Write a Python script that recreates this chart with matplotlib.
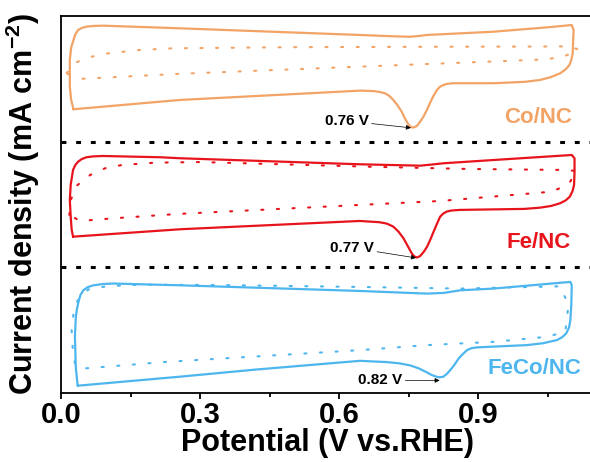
import matplotlib
matplotlib.use('Agg')
import matplotlib.pyplot as plt

# ========== Data (potential in V, current in panel-local units) ==========

co_v = [0.027, 0.022, 0.019, 0.019, 0.022, 0.027, 0.031, 0.037, 0.045, 0.055, 0.07,
        0.091, 0.257, 0.645, 0.72, 0.753, 0.775, 0.789, 0.933, 1.05, 1.102, 1.106,
        1.105, 1.104, 1.101, 1.097, 1.088, 1.077, 1.057, 1.034, 1.0, 0.933, 0.846,
        0.833, 0.825, 0.817, 0.811, 0.803, 0.796, 0.789, 0.782, 0.775, 0.768, 0.76,
        0.754, 0.749, 0.742, 0.735, 0.726, 0.717, 0.708, 0.699, 0.687, 0.674, 0.645,
        0.257, 0.027]
co_j = [0.258, 0.33, 0.44, 0.65, 0.75, 0.809, 0.855, 0.889, 0.905, 0.915, 0.921,
        0.923, 0.902, 0.849, 0.838, 0.835, 0.842, 0.849, 0.875, 0.91, 0.928, 0.889,
        0.80, 0.703, 0.65, 0.61, 0.573, 0.544, 0.514, 0.491, 0.476, 0.465, 0.465,
        0.46, 0.451, 0.435, 0.411, 0.36, 0.305, 0.25, 0.199, 0.16, 0.125, 0.112,
        0.118, 0.14, 0.185, 0.239, 0.29, 0.332, 0.365, 0.385, 0.396, 0.403, 0.406,
        0.332, 0.258]
co_dot_v = [0.012, 0.030, 0.066, 0.102, 0.171, 0.242, 0.5, 1.09, 1.117, 1.088, 1.048,
            0.861, 0.645, 0.25, 0.106, 0.037, 0.012]
co_dot_j = [0.544, 0.628, 0.676, 0.703, 0.73, 0.743, 0.752, 0.758, 0.735, 0.682, 0.655,
            0.628, 0.597, 0.539, 0.512, 0.499, 0.544]

fe_v = [0.026, 0.023, 0.021, 0.019, 0.021, 0.026, 0.031, 0.037, 0.045, 0.055, 0.07,
        0.091, 0.214, 0.257, 0.645, 0.775, 0.80, 0.825, 0.933, 1.102, 1.108, 1.108,
        1.107, 1.104, 1.098, 1.089, 1.077, 1.057, 1.034, 1.0, 0.861, 0.842, 0.832,
        0.824, 0.818, 0.811, 0.804, 0.797, 0.79, 0.783, 0.775, 0.768, 0.762, 0.757,
        0.748, 0.739, 0.728, 0.717, 0.703, 0.687, 0.645, 0.257, 0.026]
fe_j = [0.244, 0.30, 0.40, 0.536, 0.66, 0.775, 0.815, 0.841, 0.862, 0.876, 0.883,
        0.886, 0.876, 0.868, 0.82, 0.809, 0.818, 0.828, 0.854, 0.894, 0.868, 0.76,
        0.656, 0.61, 0.563, 0.533, 0.51, 0.488, 0.475, 0.465, 0.457, 0.452, 0.443,
        0.426, 0.403, 0.345, 0.284, 0.222, 0.165, 0.125, 0.09, 0.078, 0.088, 0.11,
        0.17, 0.231, 0.285, 0.324, 0.348, 0.359, 0.369, 0.303, 0.244]
fe_dot_v = [0.018, 0.021, 0.034, 0.063, 0.095, 0.131, 0.203, 0.3, 0.663, 0.876, 1.084,
            1.113, 1.095, 1.059, 0.955, 0.818, 0.674, 0.253, 0.113, 0.041, 0.018]
fe_dot_j = [0.417, 0.536, 0.65, 0.735, 0.788, 0.814, 0.833, 0.838, 0.801, 0.783, 0.775,
            0.767, 0.661, 0.602, 0.57, 0.528, 0.502, 0.425, 0.39, 0.369, 0.417]

feco_v = [0.036, 0.032, 0.03, 0.032, 0.034, 0.038, 0.042, 0.048, 0.058, 0.07, 0.09,
          0.113, 0.257, 0.645, 0.789, 0.825, 0.861, 0.933, 1.099, 1.102, 1.101, 1.099,
          1.096, 1.09, 1.081, 1.07, 1.04, 1.005, 0.897, 0.885, 0.876, 0.867, 0.858,
          0.849, 0.84, 0.832, 0.824, 0.814, 0.80, 0.789, 0.772, 0.753, 0.73, 0.703,
          0.645, 0.422, 0.257, 0.036]
feco_j = [0.058, 0.2, 0.447, 0.6, 0.659, 0.73, 0.78, 0.817, 0.843, 0.857, 0.867,
          0.871, 0.857, 0.812, 0.791, 0.796, 0.817, 0.831, 0.884, 0.857, 0.7, 0.579,
          0.52, 0.474, 0.443, 0.421, 0.396, 0.381, 0.363, 0.356, 0.341, 0.31, 0.275,
          0.225, 0.183, 0.15, 0.128, 0.125, 0.143, 0.165, 0.196, 0.22, 0.236, 0.246,
          0.256, 0.187, 0.13, 0.058]
feco_dot_v = [0.03, 0.025, 0.023, 0.027, 0.035, 0.045, 0.063, 0.102, 0.171, 0.348, 0.645,
              0.861, 1.077, 1.095, 1.088, 1.048, 0.933, 0.789, 0.645, 0.228, 0.052, 0.03]
feco_dot_j = [0.236, 0.367, 0.5, 0.632, 0.73, 0.79, 0.831, 0.85, 0.862, 0.859, 0.844,
              0.831, 0.849, 0.70, 0.487, 0.447, 0.407, 0.381, 0.341, 0.248, 0.196, 0.236]

samples = ['Co/NC', 'Fe/NC', 'FeCo/NC']
peak_labels = ['0.76 V', '0.77 V', '0.82 V']
peak_v = [0.755, 0.766, 0.817]
peak_j = [0.11, 0.075, 0.10]

# ========== Style ==========

plt.rcParams['font.family'] = ['Liberation Sans', 'DejaVu Sans']
plt.rcParams['font.weight'] = 'bold'
plt.rcParams['axes.labelweight'] = 'bold'
plt.rcParams['mathtext.fontset'] = 'custom'
plt.rcParams['mathtext.rm'] = 'Liberation Sans:bold'
plt.rcParams['mathtext.default'] = 'rm'

colors = ['#F2A366', '#E8141C', '#4DB6EE']
offsets = [2, 1, 0]
label_x = [1.03, 1.03, 1.022]
text_pos = [(0.664, 0.165), (0.676, 0.155), (0.737, 0.10)]
curves = [(co_v, co_j, co_dot_v, co_dot_j),
          (fe_v, fe_j, fe_dot_v, fe_dot_j),
          (feco_v, feco_j, feco_dot_v, feco_dot_j)]

fig = plt.figure(figsize=(5.9, 4.62), dpi=100)
ax = fig.add_axes([61 / 590, 69 / 462, 533 / 590, 377 / 462])

for i, (v, j, dv, dj) in enumerate(curves):
    off = offsets[i]
    ax.plot(v, [y + off for y in j], color=colors[i], lw=1.6,
            solid_joinstyle='round', solid_capstyle='round')
    ax.plot(dv, [y + off for y in dj], color=colors[i], lw=1.5,
            linestyle=(0, (1, 6.5)), dash_capstyle='round')
    ax.text(label_x[i], off + 0.195, samples[i], color=colors[i], fontsize=16,
            ha='center', va='center')
    tx, ty = text_pos[i]
    ax.annotate(peak_labels[i], xy=(peak_v[i], peak_j[i] + off), xytext=(tx, ty + off),
                fontsize=11, ha='right', va='center',
                arrowprops=dict(arrowstyle='-|>', lw=0.5, color='black',
                                mutation_scale=7, shrinkA=0, shrinkB=0))

for y in [1, 2]:
    ax.axhline(y, color='black', lw=2.2, linestyle=(0, (1.6, 3.2)))

ax.set_xlim(0, 1.15)
ax.set_ylim(0, 3)
ax.set_yticks([])
ax.set_xticks([0.0, 0.3, 0.6, 0.9])
ax.set_xticks([0.15, 0.45, 0.75, 1.05], minor=True)
ax.set_xticklabels(['0.0', '0.3', '0.6', '0.9'])
ax.tick_params(axis='x', which='major', direction='out', length=4, width=1.3,
               labelsize=21, pad=2)
ax.tick_params(axis='x', which='minor', direction='out', length=3, width=1.3)
for s in ax.spines.values():
    s.set_linewidth(1.3)

ax.set_xlabel('Potential (V vs.RHE)', fontsize=22, labelpad=-1)
ax.set_ylabel('Current density (mA cm$^{-2}$)', fontsize=22, labelpad=14)

fig.savefig('out.png', dpi=100)
